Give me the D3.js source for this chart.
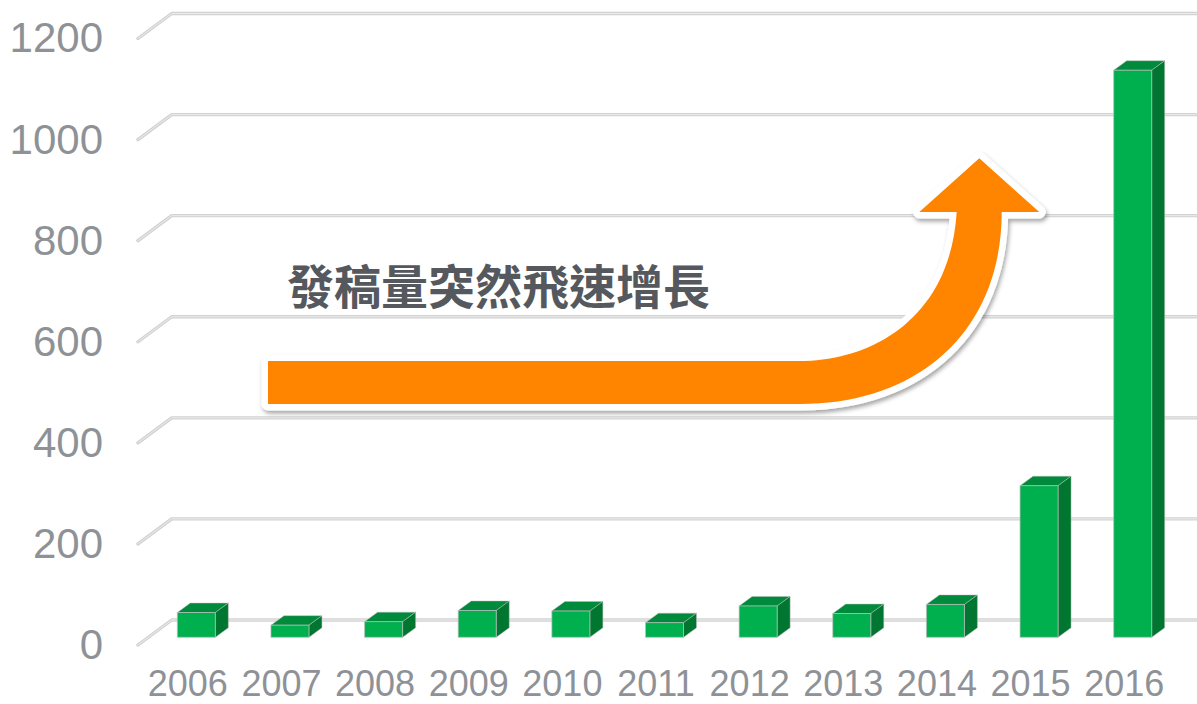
<!DOCTYPE html>
<html>
<head>
<meta charset="utf-8">
<script src="https://cdn.jsdelivr.net/npm/d3@7"></script>
<style>
  body { margin: 0; background: #fff; }
  svg { display: block; }
</style>
</head>
<body>
<svg id="chart" width="1197" height="704"></svg>
<script>
const years = ["2006", "2007", "2008", "2009", "2010", "2011", "2012", "2013", "2014", "2015", "2016"]
const counts = [49, 24, 31, 53, 52, 29, 62, 47, 65, 300, 1122]
const yTicks = [0, 200, 400, 600, 800, 1000, 1200]
const noteText = "發稿量突然飛速增長"

const svg = d3.select("#chart")

// back wall scale, front labels sit a bit lower (3d floor)
const yScale = d3.scaleLinear().domain([0, 1200]).range([620, 13.5])
const yFront = d3.scaleLinear().domain([0, 1200]).range([645, 38.5])
const xScale = d3.scaleBand().domain(years).range([149.5, 1179.5])
    .paddingInner(0.594).paddingOuter(0.297)

const barShift = 17.3   // bar plane sits between wall and front
const depthX = 13, depthY = -9.5

// gridlines with diagonal wall part
const grid = svg.append("g").attr("id", "grid")
yTicks.forEach(t => {
    const d = `M138,${yScale(t) + 25}L171.7,${yScale(t)}L1197,${yScale(t)}`
    grid.append("path").attr("d", d)
        .style("fill", "none").style("stroke", "#d2d2d2").style("stroke-width", 3.4)
        .style("stroke-linejoin", "round").style("stroke-linecap", "round")
    grid.append("path").attr("d", d)
        .style("fill", "none").style("stroke", "#ececec").style("stroke-width", 1)
})

// y axis labels
const yAxis = d3.axisLeft(yFront).tickValues(yTicks).tickFormat(d3.format("d"))
    .tickSize(0).tickPadding(0)
const yAxisG = svg.append("g").attr("transform", "translate(103,0)").call(yAxis)
yAxisG.select(".domain").remove()
yAxisG.selectAll("text")
    .style("font-family", "'Liberation Sans', Arial, sans-serif")
    .style("font-size", "42px")
    .style("fill", "#8e9297")

// x axis labels
const xAxis = d3.axisBottom(xScale).tickSize(0).tickPadding(0)
const xAxisG = svg.append("g").attr("transform", "translate(-8.5,670)").call(xAxis)
xAxisG.select(".domain").remove()
xAxisG.selectAll("text")
    .style("font-family", "'Liberation Sans', Arial, sans-serif")
    .style("font-size", "36px")
    .style("fill", "#8e9297")

// 3d bars
const w = xScale.bandwidth()
const barG = svg.append("g").attr("id", "bars")
    .selectAll("g")
    .data(years.map((y, i) => ({ year: y, value: counts[i] })))
    .enter()
    .append("g")

const barTop = d => yScale(d.value) + barShift
const barBottom = yScale(0) + barShift

barG.append("polygon")
    .attr("points", d => {
        const x = xScale(d.year), yt = barTop(d)
        return [[x, yt], [x + depthX, yt + depthY], [x + w + depthX, yt + depthY], [x + w, yt]].join(" ")
    })
    .style("fill", "#008a3c")
    .style("stroke", "rgba(190,190,190,0.6)").style("stroke-width", 0.8)

barG.append("polygon")
    .attr("points", d => {
        const x = xScale(d.year) + w, yt = barTop(d)
        return [[x, yt], [x + depthX, yt + depthY], [x + depthX, barBottom + depthY], [x, barBottom]].join(" ")
    })
    .style("fill", "#007631")
    .style("stroke", "rgba(190,190,190,0.6)").style("stroke-width", 0.8)

barG.append("rect")
    .attr("x", d => xScale(d.year))
    .attr("y", d => barTop(d))
    .attr("width", w)
    .attr("height", d => barBottom - barTop(d))
    .style("fill", "#00b04f")
    .style("stroke", "rgba(190,190,190,0.7)").style("stroke-width", 1)

// arrow
const defs = svg.append("defs")
const filter = defs.append("filter").attr("id", "shadow")
    .attr("x", "-10%").attr("y", "-10%").attr("width", "130%").attr("height", "130%")
filter.append("feDropShadow")
    .attr("dx", 1.5).attr("dy", 3).attr("stdDeviation", 2.2)
    .attr("flood-color", "#000").attr("flood-opacity", 0.35)

const p = d3.path()
p.moveTo(268, 361)
p.lineTo(800, 361)
p.bezierCurveTo(870, 361, 950, 320, 956.7, 212)
p.lineTo(919.3, 212)
p.lineTo(979.3, 158.3)
p.lineTo(1039.3, 212)
p.lineTo(1001.7, 212)
p.bezierCurveTo(1001.7, 330, 920, 404, 800, 404)
p.lineTo(268, 404)
p.closePath()

svg.append("path").attr("d", p.toString())
    .style("fill", "#fff").style("stroke", "#fff")
    .style("stroke-width", 13).style("stroke-linejoin", "round")
    .attr("filter", "url(#shadow)")
svg.append("path").attr("d", p.toString())
    .style("fill", "#ff8400")

// annotation
svg.append("text")
    .attr("x", 287)
    .attr("y", 304)
    .style("font-family", "'Noto Sans CJK TC', 'Noto Sans CJK SC', sans-serif")
    .style("font-weight", "bold")
    .style("font-size", "47px")
    .style("fill", "#55595e")
    .text(noteText)
</script>
</body>
</html>
